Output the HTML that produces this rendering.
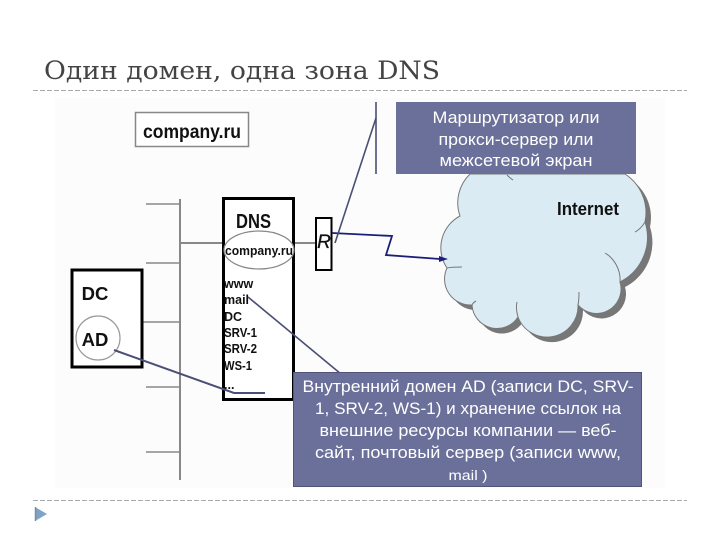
<!DOCTYPE html>
<html lang="ru">
<head>
<meta charset="utf-8">
<style>
html,body{margin:0;padding:0;background:#fff}
svg{display:block}
.s{font-family:"Liberation Sans","Noto Sans CJK SC",sans-serif}
</style>
</head>
<body>
<svg width="720" height="540" viewBox="0 0 720 540" xmlns="http://www.w3.org/2000/svg">
<rect width="720" height="540" fill="#fff"/>
<rect x="55" y="98" width="610" height="390" fill="#fcfcfc"/>
<text x="44" y="79" font-family="'DejaVu Serif','Liberation Serif',serif" font-size="25" fill="#444" textLength="396" lengthAdjust="spacingAndGlyphs">Один домен, одна зона DNS</text>
<line x1="33" y1="90.500" x2="687" y2="90.500" stroke="#aaa" stroke-dasharray="5 2"/>
<line x1="33" y1="500.500" x2="687" y2="500.500" stroke="#aaa" stroke-dasharray="5 2"/>
<polygon points="35,507 47,514 35,521" fill="#7da3c6"/>
<line x1="35.500" y1="507" x2="35.500" y2="521" stroke="#7f8c99" stroke-width="1.500"/>

<rect x="135.500" y="112.500" width="113" height="34" fill="#fff" stroke="#888" stroke-width="1.500"/>
<text class="s" x="192" y="138" font-size="19" font-weight="bold" text-anchor="middle" fill="#111" textLength="98" lengthAdjust="spacingAndGlyphs">company.ru</text>

<g stroke="#888" fill="none">
<line x1="180" y1="199" x2="180" y2="480" stroke-width="2"/>
<line x1="146" y1="204" x2="180" y2="204" stroke-width="1.500"/>
<line x1="146" y1="263" x2="180" y2="263" stroke-width="1.500"/>
<line x1="142" y1="322" x2="180" y2="322" stroke-width="1.500"/>
<line x1="146" y1="387" x2="180" y2="387" stroke-width="1.500"/>
<line x1="146" y1="452" x2="180" y2="452" stroke-width="1.500"/>
<line x1="180" y1="243" x2="223" y2="243" stroke-width="2"/>
<line x1="293" y1="243" x2="316" y2="243" stroke-width="2"/>
</g>

<rect x="223.500" y="198.500" width="70" height="201" fill="#fff" stroke="#000" stroke-width="3"/>
<text class="s" x="236" y="228" font-size="20" font-weight="bold" fill="#111" textLength="35" lengthAdjust="spacingAndGlyphs">DNS</text>
<ellipse cx="259" cy="250" rx="35" ry="19" fill="#fff" stroke="#888" stroke-width="1.200"/>
<text class="s" x="259" y="255" font-size="13" font-weight="bold" text-anchor="middle" fill="#111" textLength="68" lengthAdjust="spacingAndGlyphs">company.ru</text>
<g class="s" font-size="12.500" font-weight="bold" fill="#111">
<text x="224" y="288">www</text>
<text x="224" y="304">mail</text>
<text x="224" y="321">DC</text>
<text x="224" y="337" textLength="33" lengthAdjust="spacingAndGlyphs">SRV-1</text>
<text x="224" y="353" textLength="33" lengthAdjust="spacingAndGlyphs">SRV-2</text>
<text x="224" y="370" textLength="28" lengthAdjust="spacingAndGlyphs">WS-1</text>
<text x="224" y="389">...</text>
</g>

<rect x="316" y="218" width="15.500" height="52" fill="#fff" stroke="#000" stroke-width="2"/>
<text class="s" x="324" y="248" font-size="19" font-style="italic" text-anchor="middle" fill="#111" stroke="#111" stroke-width="0.300">R</text>

<rect x="72" y="270" width="70" height="97" fill="#fff" stroke="#000" stroke-width="3"/>
<text class="s" x="95" y="300" font-size="18.500" font-weight="bold" text-anchor="middle" fill="#111">DC</text>
<circle cx="98" cy="338" r="22" fill="#fff" stroke="#999" stroke-width="1.200"/>
<text class="s" x="95" y="346" font-size="18.500" font-weight="bold" text-anchor="middle" fill="#111">AD</text>

<path d="M470 174A40 40 0 0 0 460 216A36 36 0 0 0 447 268A26 26 0 0 0 472 305A25 25 0 0 0 518 317A31 31 0 0 0 578 305A24.500 24.500 0 0 0 620 282A50 50 0 0 0 645 222A46 46 0 0 0 625 174Z" fill="#777" transform="translate(5,5)"/>
<path d="M470 174A40 40 0 0 0 460 216A36 36 0 0 0 447 268A26 26 0 0 0 472 305A25 25 0 0 0 518 317A31 31 0 0 0 578 305A24.500 24.500 0 0 0 620 282A50 50 0 0 0 645 222A46 46 0 0 0 625 174Z" fill="#daebf3" stroke="#777" stroke-width="1"/>
<g fill="none" stroke="#777" stroke-width="1">
<path d="M447 268C451 267 457 267 462 267"/>
<path d="M472 305C473 303 474 302 476 301"/>
<path d="M518 317C516 310 516 306 517 302"/>
<path d="M578 305C579 300 579 296 579 292"/>
<path d="M620 282C621 270 614 258 605 253"/>
<path d="M645 222C642 227 639 230 635 232"/>
<path d="M507 175C509 177 511 179 513 180"/>
</g>
<text class="s" x="588" y="215" font-size="18.500" font-weight="bold" text-anchor="middle" fill="#111" textLength="62" lengthAdjust="spacingAndGlyphs">Internet</text>

<polyline points="332,233 392,236 386,255 440,259" fill="none" stroke="#1b1f7a" stroke-width="1.800"/>
<polygon points="448,259 439,256 439,262" fill="#1b1f7a"/>

<g fill="none" stroke="#4a5075" stroke-width="1.600">
<line x1="376" y1="102" x2="376" y2="174"/>
<line x1="335" y1="243" x2="376" y2="118"/>
<polyline points="114,350 234,393 265,393" stroke-width="2"/>
<line x1="248" y1="297" x2="341" y2="374"/>
</g>

<rect x="396" y="102" width="240" height="72" fill="#6a7099"/>
<g class="s" font-size="16.500" fill="#fff" text-anchor="middle">
<text x="516" y="123" textLength="167" lengthAdjust="spacingAndGlyphs">Маршрутизатор или</text>
<text x="516" y="145" textLength="155" lengthAdjust="spacingAndGlyphs">прокси-сервер или</text>
<text x="516" y="166" textLength="153" lengthAdjust="spacingAndGlyphs">межсетевой экран</text>
</g>

<rect x="293.500" y="372.500" width="348" height="114" fill="#6a7099" stroke="#4f5478" stroke-width="1"/>
<g class="s" font-size="16.500" fill="#fff" text-anchor="middle">
<text x="468" y="392" textLength="331" lengthAdjust="spacingAndGlyphs">Внутренний домен AD (записи DC, SRV-</text>
<text x="468" y="414" textLength="306" lengthAdjust="spacingAndGlyphs">1, SRV-2, WS-1) и хранение ссылок на</text>
<text x="468" y="436" textLength="297" lengthAdjust="spacingAndGlyphs">внешние ресурсы компании — веб-</text>
<text x="468" y="458" textLength="306" lengthAdjust="spacingAndGlyphs">сайт, почтовый сервер (записи www,</text>
<text x="468" y="480" font-size="14" textLength="39" lengthAdjust="spacingAndGlyphs">mail )</text>
</g>
</svg>
</body>
</html>
